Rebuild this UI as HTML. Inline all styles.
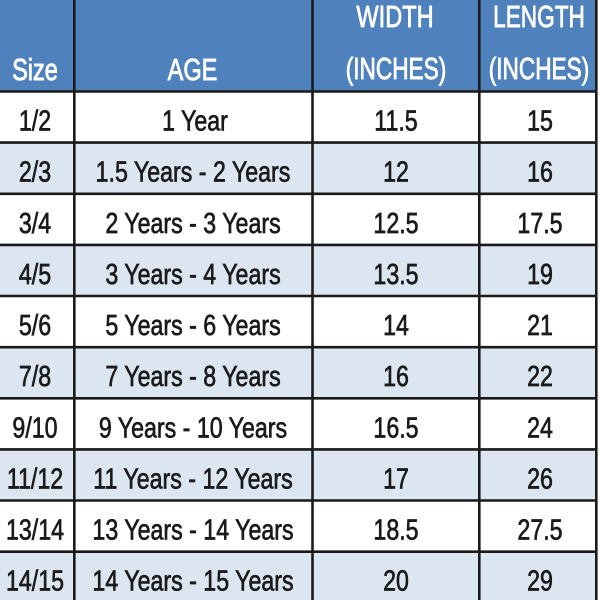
<!DOCTYPE html>
<html><head><meta charset="utf-8"><style>
html,body{margin:0;padding:0;background:#fff;width:600px;height:600px;overflow:hidden}
svg{display:block}
text{font-family:"Liberation Sans",sans-serif}
</style></head><body>
<svg width="600" height="600" viewBox="0 0 600 600" xmlns="http://www.w3.org/2000/svg">
<rect x="0" y="0" width="600" height="600" fill="#ffffff"/>
<rect x="0" y="0" width="597" height="91.5" fill="#4f81bd"/>
<!-- light rows -->
<g fill="#dce6f1">
<rect x="0" y="142.6" width="597" height="51.2"/>
<rect x="0" y="244.9" width="597" height="51.2"/>
<rect x="0" y="347.2" width="597" height="51.2"/>
<rect x="0" y="449.4" width="597" height="51.2"/>
<rect x="0" y="551.7" width="597" height="50"/>
</g>
<!-- lines -->
<g stroke="#1a1a1a" stroke-width="2.6">
<line x1="0" y1="91.5" x2="597" y2="91.5"/>
<line x1="0" y1="142.6" x2="597" y2="142.6"/>
<line x1="0" y1="193.8" x2="597" y2="193.8"/>
<line x1="0" y1="244.9" x2="597" y2="244.9"/>
<line x1="0" y1="296" x2="597" y2="296"/>
<line x1="0" y1="347.2" x2="597" y2="347.2"/>
<line x1="0" y1="398.3" x2="597" y2="398.3"/>
<line x1="0" y1="449.4" x2="597" y2="449.4"/>
<line x1="0" y1="500.5" x2="597" y2="500.5"/>
<line x1="0" y1="551.7" x2="597" y2="551.7"/>
<line x1="74.3" y1="0" x2="74.3" y2="600"/>
<line x1="312.5" y1="0" x2="312.5" y2="600"/>
<line x1="479.3" y1="0" x2="479.3" y2="600"/>
<line x1="596.3" y1="0" x2="596.3" y2="600"/>
</g>
<!-- header -->
<g fill="#ffffff" stroke="#ffffff" stroke-width="0.9" font-size="31" text-anchor="middle">
<g transform="translate(35,80) scale(0.76,1)"><text x="0" y="0">Size</text></g>
<g transform="translate(192.5,80) scale(0.76,1)"><text x="0" y="0">AGE</text></g>
<g transform="translate(395,27) scale(0.76,1)"><text x="0" y="0">WIDTH</text></g>
<g transform="translate(396,79) scale(0.73,1)"><text x="0" y="0">(INCHES)</text></g>
<g transform="translate(539,27) scale(0.73,1)"><text x="0" y="0">LENGTH</text></g>
<g transform="translate(539,79) scale(0.73,1)"><text x="0" y="0">(INCHES)</text></g>
</g>
<!-- body -->
<g fill="#1a1a1a" stroke="#1a1a1a" stroke-width="0.7" font-size="29" text-anchor="middle">
<g transform="translate(35,130.5) scale(0.8,1)"><text>1/2</text></g>
<g transform="translate(195,130.5) scale(0.8,1)"><text>1 Year</text></g>
<g transform="translate(396,130.5) scale(0.8,1)"><text>11.5</text></g>
<g transform="translate(540,130.5) scale(0.8,1)"><text>15</text></g>

<g transform="translate(35,181.6) scale(0.8,1)"><text>2/3</text></g>
<g transform="translate(193,181.6) scale(0.8,1)"><text>1.5 Years - 2 Years</text></g>
<g transform="translate(396,181.6) scale(0.8,1)"><text>12</text></g>
<g transform="translate(540,181.6) scale(0.8,1)"><text>16</text></g>

<g transform="translate(35,232.8) scale(0.8,1)"><text>3/4</text></g>
<g transform="translate(193,232.8) scale(0.8,1)"><text>2 Years - 3 Years</text></g>
<g transform="translate(396,232.8) scale(0.8,1)"><text>12.5</text></g>
<g transform="translate(540,232.8) scale(0.8,1)"><text>17.5</text></g>

<g transform="translate(35,283.9) scale(0.8,1)"><text>4/5</text></g>
<g transform="translate(193,283.9) scale(0.8,1)"><text>3 Years - 4 Years</text></g>
<g transform="translate(396,283.9) scale(0.8,1)"><text>13.5</text></g>
<g transform="translate(540,283.9) scale(0.8,1)"><text>19</text></g>

<g transform="translate(35,335) scale(0.8,1)"><text>5/6</text></g>
<g transform="translate(193,335) scale(0.8,1)"><text>5 Years - 6 Years</text></g>
<g transform="translate(396,335) scale(0.8,1)"><text>14</text></g>
<g transform="translate(540,335) scale(0.8,1)"><text>21</text></g>

<g transform="translate(35,386.2) scale(0.8,1)"><text>7/8</text></g>
<g transform="translate(193,386.2) scale(0.8,1)"><text>7 Years - 8 Years</text></g>
<g transform="translate(396,386.2) scale(0.8,1)"><text>16</text></g>
<g transform="translate(540,386.2) scale(0.8,1)"><text>22</text></g>

<g transform="translate(35,437.3) scale(0.8,1)"><text>9/10</text></g>
<g transform="translate(193,437.3) scale(0.8,1)"><text>9 Years - 10 Years</text></g>
<g transform="translate(396,437.3) scale(0.8,1)"><text>16.5</text></g>
<g transform="translate(540,437.3) scale(0.8,1)"><text>24</text></g>

<g transform="translate(35,488.4) scale(0.8,1)"><text>11/12</text></g>
<g transform="translate(193,488.4) scale(0.8,1)"><text>11 Years - 12 Years</text></g>
<g transform="translate(396,488.4) scale(0.8,1)"><text>17</text></g>
<g transform="translate(540,488.4) scale(0.8,1)"><text>26</text></g>

<g transform="translate(35,539.5) scale(0.8,1)"><text>13/14</text></g>
<g transform="translate(193,539.5) scale(0.8,1)"><text>13 Years - 14 Years</text></g>
<g transform="translate(396,539.5) scale(0.8,1)"><text>18.5</text></g>
<g transform="translate(540,539.5) scale(0.8,1)"><text>27.5</text></g>

<g transform="translate(35,590.7) scale(0.8,1)"><text>14/15</text></g>
<g transform="translate(193,590.7) scale(0.8,1)"><text>14 Years - 15 Years</text></g>
<g transform="translate(396,590.7) scale(0.8,1)"><text>20</text></g>
<g transform="translate(540,590.7) scale(0.8,1)"><text>29</text></g>
</g>
</svg>
</body></html>
